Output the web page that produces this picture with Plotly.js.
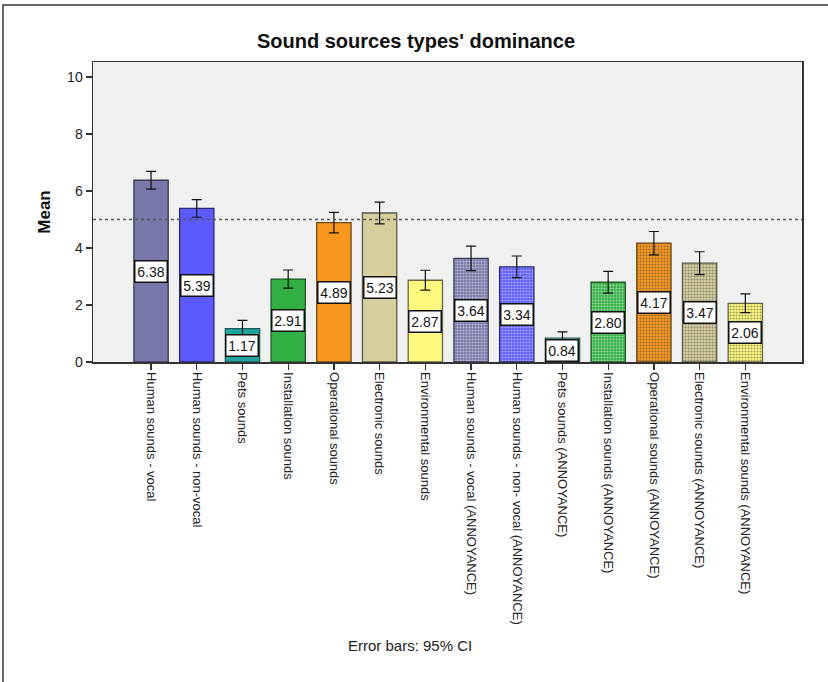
<!DOCTYPE html>
<html>
<head>
<meta charset="utf-8">
<script src="https://cdn.plot.ly/plotly-3.0.1.min.js"></script>
<style>html,body{margin:0;padding:0;background:#fff;}#chart{width:828px;height:682px;}</style>
</head>
<body>
<div id="chart"></div>
<script>
const categories = [
  "Human sounds - vocal",
  "Human sounds - non-vocal",
  "Pets sounds",
  "Installation sounds",
  "Operational sounds",
  "Electronic sounds",
  "Environmental sounds",
  "Human sounds - vocal (ANNOYANCE)",
  "Human sounds - non- vocal (ANNOYANCE)",
  "Pets sounds (ANNOYANCE)",
  "Installation sounds (ANNOYANCE)",
  "Operational sounds (ANNOYANCE)",
  "Electronic sounds (ANNOYANCE)",
  "Environmental sounds (ANNOYANCE)"
];
const means = [6.38, 5.39, 1.17, 2.91, 4.89, 5.23, 2.87, 3.64, 3.34, 0.84, 2.80, 4.17, 3.47, 2.06];
const ciHalf = [0.31, 0.31, 0.29, 0.32, 0.36, 0.38, 0.35, 0.43, 0.38, 0.22, 0.38, 0.41, 0.40, 0.33];
const valueLabels = ["6.38","5.39","1.17","2.91","4.89","5.23","2.87","3.64","3.34","0.84","2.80","4.17","3.47","2.06"];
const fillColors = ["#7878aa","#5a5aff","#1fa5a0","#33b043","#f8981f","#d5cf9e","#fcf97e",
                    "#7878aa","#5a5aff","#ffffff","#33b043","#f8981f","#d5cf9e","#fcf97e"];
const lineColors = ["#3a3a50","#2a2a70","#1d5a55","#1f5a25","#6a4a10","#5a5848","#6a6840",
                    "#3a3a50","#2a2a70","#1d5a55","#1f5a25","#6a4a10","#5a5848","#6a6840"];
const patternShapes = ["","","","","","","",".",".",".",".",".",".","."];
const patternFg = ["#000","#000","#000","#000","#000","#000","#000",
                   "#4a4a74","#3030b8","#ffffff","#1f8a2e","#c87410","#b0a878","#d0cc48"];
const refLine = 5;

const font = "Arial, 'Liberation Sans', sans-serif";

const trace = {
  type: "bar",
  x: categories,
  y: means,
  width: 0.75,
  marker: {
    color: fillColors,
    line: {color: lineColors, width: 1.3},
    pattern: {shape: patternShapes, fgcolor: patternFg, size: 3, solidity: 0.4, fillmode: "overlay"}
  },
  error_y: {type: "data", array: ciHalf, visible: true, color: "#111", thickness: 1.2, width: 5},
  hoverinfo: "none"
};

const annotations = categories.map((c, i) => ({
  x: c, y: means[i] / 2, xref: "x", yref: "y",
  text: valueLabels[i], showarrow: false,
  width: 29, height: 18,
  font: {family: font, size: 14, color: "#111"},
  bgcolor: "#ffffff", bordercolor: "#111", borderwidth: 1.5, borderpad: 1
}));
annotations.push({
  xref: "paper", yref: "paper", x: (410 - 93) / 709, y: (362 - 656) / 300,
  text: "Error bars: 95% CI", showarrow: false,
  font: {family: font, size: 15, color: "#222"}
});

const layout = {
  width: 828, height: 682,
  margin: {l: 93, r: 26, t: 62, b: 320},
  paper_bgcolor: "#ffffff",
  plot_bgcolor: "#f0f0f0",
  showlegend: false,
  title: {text: "<b>Sound sources types' dominance</b>", x: 416 / 828, xanchor: "center", y: 1 - 41 / 682, yanchor: "middle",
          font: {family: font, size: 20, color: "#111"}},
  xaxis: {
    type: "category", range: [-1.27, 14.24],
    showline: true, linecolor: "#333", linewidth: 1.5, mirror: true,
    ticks: "outside", ticklen: 6, tickcolor: "#333", tickwidth: 1.3,
    tickangle: 90, tickfont: {family: font, size: 13, color: "#222"},
    showgrid: false, zeroline: false, fixedrange: true
  },
  yaxis: {
    range: [0, 10.53], tickvals: [0, 2, 4, 6, 8, 10],
    showline: true, linecolor: "#333", linewidth: 1.5, mirror: true,
    ticks: "outside", ticklen: 6, tickcolor: "#333", tickwidth: 1.3,
    tickfont: {family: font, size: 14, color: "#222"},
    showgrid: false, zeroline: false,
    title: {text: "<b>Mean</b>", font: {family: font, size: 17, color: "#111"}, standoff: 12}
  },
  shapes: [
    {type: "line", xref: "paper", yref: "y", x0: 0, x1: 1, y0: refLine, y1: refLine,
     line: {color: "#555", width: 1.5, dash: "dot"}},
    {type: "path", xref: "paper", yref: "paper",
     path: `M ${(3-93)/709} ${(362-690)/300} L ${(3-93)/709} ${(362-5)/300} L ${(840-93)/709} ${(362-5)/300}`,
     line: {color: "#333", width: 1.5}}
  ],
  annotations: annotations
};

Plotly.newPlot("chart", [trace], layout, {displayModeBar: false, staticPlot: true});
</script>
</body>
</html>
